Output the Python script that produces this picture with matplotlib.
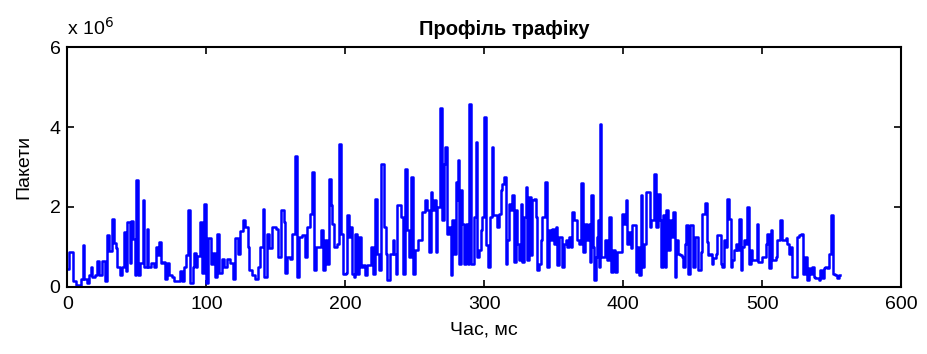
import matplotlib.pyplot as plt
import numpy as np

plt.rcParams['font.family'] = ['Liberation Sans', 'DejaVu Sans']

# step start times (ms) and packet counts (x 10^6)
time_ms = [0, 1, 4, 6, 8, 10, 11, 12, 14, 15.5, 17, 18, 20, 21.5, 23, 25, 27, 28.5, 30, 32,
           33.5, 35, 36, 37.5, 39, 40.5, 42, 43, 45, 46, 47, 48.5, 49.3, 50.5, 52, 54, 55, 57, 58, 60,
           62, 63.5, 65, 66, 67.5, 69, 70.5, 71.5, 73, 75, 77, 79, 81, 82.5, 84, 85.5, 87, 88.5, 90, 91,
           92.5, 93.5, 95.5, 97, 98.5, 100, 101.5, 103.5, 105, 106.5, 107.5, 109, 111, 113, 115, 117, 119, 120.5, 122.5, 124.5,
           126, 128, 130, 131, 133, 135, 137, 138.5, 140.5, 141.8, 143.5, 145, 147.5, 150, 151.5, 153.5, 155.5, 156.8, 158, 160,
           161.5, 163.5, 165, 166.5, 169, 171, 172.5, 174.5, 176, 177.5, 179, 181, 182.5, 184, 185.5, 187, 188, 189.5, 190.5, 191.5,
           194, 195.5, 197, 198.5, 200.5, 201.2, 202.5, 203.5, 205, 206, 207, 208.5, 209.5, 211, 213, 214.5, 215.5, 218.5, 220, 221.5,
           223, 224.2, 225.8, 227.5, 229, 230.3, 232.5, 234, 235, 236.2, 237, 240, 241.5, 243, 244.5, 246, 247.5, 248.9, 250.5, 252,
           254.5, 255.3, 257.5, 259, 260.3, 261.3, 262.5, 263.5, 265, 266, 267.8, 269.5, 270.8, 272, 273.5, 274.5, 275.8, 277, 278.2, 279.3,
           280.5, 281, 282, 283, 284.3, 285.5, 286.7, 288, 289.3, 290.8, 292.5, 293.8, 295, 296.3, 297.3, 298.5, 300, 301.5, 302.7, 304,
           305.3, 306.6, 308, 309.3, 310.5, 311.8, 313, 314.2, 315.4, 316.6, 317.8, 319, 320.2, 321.4, 322.6, 323.8, 325, 326.2, 327.4, 328.6,
           329.8, 331, 332.2, 333.4, 334.6, 335.8, 337, 338.2, 339.4, 340.6, 341.8, 343.6, 344.9, 346.5, 347.7, 348.9, 350.1, 351.3, 352.5, 353.7,
           356, 357.3, 358.5, 359.7, 361, 362.1, 363.3, 364.5, 365.7, 367, 368.1, 369.8, 371.2, 372.8, 374, 375.3, 376, 377, 378, 379,
           380.2, 381.4, 382.2, 382.8, 383.2, 384.2, 385.5, 386.7, 387.9, 388.6, 389.8, 391, 393, 394, 395.8, 398.2, 399.4, 400.6, 402.3, 403,
           404.2, 405.4, 406.6, 407.8, 409, 410.2, 411.4, 412.6, 413.8, 415, 416.2, 419, 420, 422.5, 423.8, 425, 426.2, 427.4, 428.6, 429.8,
           431, 432.2, 433.4, 434.9, 435.8, 437, 438.2, 439.4, 440.6, 442.1, 443, 444.2, 445.4, 446.6, 447.8, 449, 450.2, 451.7, 452.9, 454.1,
           455.7, 456.9, 458.6, 460, 461.2, 462.4, 463.6, 464.8, 466.5, 467.7, 469, 470.1, 471.3, 472.5, 473.7, 474.5, 475.9, 477.3, 478.5, 479.7,
           480.9, 482.1, 483.3, 484.5, 485.7, 486.9, 488.1, 489, 490.5, 491.7, 492.9, 495.3, 496, 497.2, 498.9, 500.1, 502.5, 503.7, 504.9, 506.1,
           507.3, 509.7, 510.9, 513, 514.5, 516.9, 518.1, 519.3, 520.5, 521.7, 524.1, 525.3, 526.5, 528.2, 529.3, 530.8, 532.4, 533.6, 534.8, 536,
           537.2, 538.4, 540.8, 542, 543.2, 544.4, 545.6, 546.8, 548, 549.7, 550.9, 552.3, 554, 555.2, 556]

packets_m = [0.45, 0.88, 0.15, 0.05, 0.03, 0.2, 1.04, 0.2, 0.1, 0.3, 0.5, 0.25, 0.3, 0.64, 0.3, 0.64, 0.15, 1.29, 0.9, 1.71,
             1.1, 0.96, 0.5, 0.3, 0.5, 1.38, 0.4, 1.63, 0.6, 1.65, 1.2, 0.3, 2.67, 0.3, 0.6, 2.17, 0.5, 1.46, 0.5, 0.6,
             0.5, 1.0, 0.8, 1.13, 0.6, 0.62, 0.2, 0.6, 0.3, 0.25, 0.15, 0.15, 0.4, 0.15, 0.5, 0.8, 1.93, 0.1, 0.5, 0.85,
             0.5, 0.76, 1.63, 0.35, 2.07, 0.1, 1.21, 0.58, 0.85, 0.25, 1.33, 0.35, 0.7, 0.5, 0.7, 0.6, 0.2, 1.21, 0.83, 1.4,
             1.67, 1.5, 1.0, 0.42, 0.3, 0.2, 0.5, 1.0, 1.96, 0.25, 1.33, 0.96, 1.5, 1.45, 0.75, 1.92, 1.63, 0.35, 0.75, 0.7,
             1.33, 3.29, 0.25, 1.25, 1.3, 0.75, 1.5, 1.83, 2.875, 0.42, 1.0, 1.0, 1.42, 0.42, 1.17, 0.58, 2.71, 2.04, 1.58, 1.0,
             1.08, 3.58, 1.33, 0.33, 0.35, 1.79, 1.25, 1.5, 0.33, 0.25, 1.33, 0.33, 1.25, 0.5, 0.54, 0.29, 0.54, 1.0, 0.33, 2.21,
             0.83, 0.42, 3.08, 1.5, 0.83, 0.17, 0.83, 1.17, 0.83, 0.33, 2.04, 1.75, 0.33, 2.96, 1.42, 0.75, 2.75, 0.33, 0.92, 1.17,
             1.17, 1.875, 2.17, 1.92, 0.875, 2.375, 1.92, 2.17, 0.875, 2.0, 4.48, 1.67, 3.08, 3.5, 1.33, 1.5, 0.29, 1.67, 0.83, 2.63,
             2.17, 3.17, 0.58, 2.42, 1.58, 0.58, 1.58, 0.58, 4.58, 0.58, 1.75, 3.625, 0.75, 0.92, 1.42, 1.75, 4.25, 1.04, 0.5, 1.75,
             3.5, 1.79, 1.79, 1.5, 1.83, 2.42, 2.58, 2.75, 0.58, 1.17, 2.08, 1.92, 2.29, 0.625, 1.92, 1.08, 0.67, 2.08, 0.625, 1.75,
             2.5, 0.67, 2.25, 0.79, 2.17, 2.21, 1.75, 0.42, 0.58, 1.17, 1.75, 2.625, 0.5, 1.42, 1.17, 1.46, 1.08, 1.5, 0.54, 1.25,
             0.5, 1.08, 1.17, 1.0, 1.25, 1.0, 1.875, 1.67, 1.67, 1.17, 1.08, 2.6, 0.875, 1.58, 1.17, 1.58, 0.625, 2.29, 1.0, 0.17,
             0.75, 1.25, 1.67, 0.5, 4.08, 0.75, 0.75, 1.17, 1.17, 0.67, 1.75, 0.375, 0.92, 0.375, 0.875, 0.875, 1.83, 1.58, 2.17, 1.08,
             1.375, 0.96, 1.54, 1.54, 0.375, 1.0, 0.29, 2.29, 0.5, 1.08, 2.375, 1.5, 1.67, 2.83, 1.5, 2.33, 1.67, 0.5, 1.79, 0.5,
             1.92, 0.92, 1.67, 1.25, 1.875, 0.25, 1.17, 0.83, 0.79, 0.75, 0.5, 1.08, 1.54, 0.33, 1.54, 1.54, 0.5, 1.25, 1.25, 0.42,
             0.875, 1.83, 2.1, 1.125, 0.79, 0.83, 0.58, 0.71, 0.83, 1.29, 1.29, 0.58, 0.5, 1.17, 1.0, 2.21, 1.71, 0.5, 0.67, 0.92,
             1.08, 0.92, 1.71, 0.42, 1.0, 1.17, 1.08, 2.0, 0.58, 0.92, 0.67, 0.67, 1.58, 0.625, 0.625, 0.75, 1.08, 1.33, 0.46, 1.42,
             0.67, 0.75, 1.17, 1.67, 1.17, 1.21, 1.08, 0.83, 1.0, 0.25, 0.25, 1.25, 1.29, 1.33, 0.33, 0.75, 0.17, 0.46, 0.33, 0.5,
             0.25, 0.21, 0.17, 0.42, 0.21, 0.46, 0.5, 0.46, 0.83, 1.79, 0.33, 0.29, 0.21, 0.29, 0.29]

x_ticks = [0, 100, 200, 300, 400, 500, 600]
y_ticks = [0, 2, 4, 6]

fig = plt.figure(figsize=(9.27, 3.54), dpi=100)
ax = fig.add_axes([0.0728, 0.190, 0.8992, 0.676])

ax.step(time_ms, packets_m, where='post', color='#0000ff', linewidth=1.8)

ax.set_xlim(0, 600)
ax.set_ylim(0, 6)
ax.set_xticks(x_ticks)
ax.set_yticks(y_ticks)
ax.tick_params(direction='in', length=5, width=1.2, top=True, right=True, labelsize=14)
ax.tick_params(axis='x', pad=7)
ax.tick_params(axis='y', pad=5)
for s in ax.spines.values():
    s.set_linewidth(1.5)

ax.set_xlabel('Час, мс', fontsize=14, labelpad=6)
ax.set_ylabel('Пакети', fontsize=14, labelpad=12)
ax.set_title('Профіль трафіку', fontsize=14.5, fontweight='bold', pad=9, x=0.524)
ax.text(0, 1.035, r'x 10$^6$', transform=ax.transAxes, fontsize=14, ha='left', va='bottom')

fig.savefig('out.png', dpi=100)
